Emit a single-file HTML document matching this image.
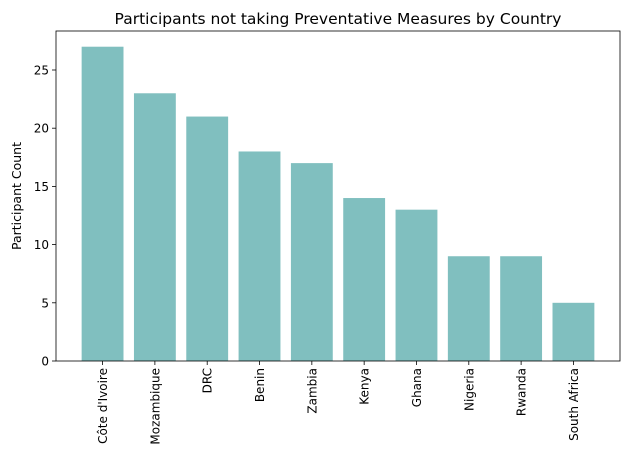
<!DOCTYPE html>
<html><head><meta charset="utf-8">
<style>
body{margin:0;background:#fff;font-family:"Liberation Sans","DejaVu Sans",sans-serif;}
svg text{font-family:"DejaVu Sans","Liberation Sans",sans-serif;}
</style></head>
<body>
<svg id="chart" width="630" height="470" xmlns="http://www.w3.org/2000/svg">
<rect width="630" height="470" fill="#fff"/>
<text x="338" y="24" font-size="15.5" text-anchor="middle" fill="#000">Participants not taking Preventative Measures by Country</text>
<text transform="translate(21,196) rotate(-90)" font-size="12.5" text-anchor="middle" fill="#000">Participant Count</text>
<g id="bars"></g>
<g id="axes"></g>
</svg>
<script>
const categories=["Côte d'Ivoire","Mozambique","DRC","Benin","Zambia","Kenya","Ghana","Nigeria","Rwanda","South Africa"];
const values=[27,23,21,18,17,14,13,9,9,5];
const yTicks=[0,5,10,15,20,25];
const L=56,R=620,T=31,B=361;
const yMax=28.35, xMin=-0.89, xMax=9.89;
const ns="http://www.w3.org/2000/svg";
function y(v){return B-(v/yMax)*(B-T);}
function x(i){return L+(i-xMin)/(xMax-xMin)*(R-L);}
function mk(t,a,parent){const e=document.createElementNS(ns,t);for(const k in a)e.setAttribute(k,a[k]);parent.appendChild(e);return e;}
const bars=document.getElementById('bars'),axes=document.getElementById('axes');
const bw=0.8*(R-L)/(xMax-xMin);
values.forEach((v,i)=>{
  const r=mk('rect',{x:x(i)-bw/2,y:y(v),width:bw,height:B-y(v),fill:'#80bfbf'},bars);
  
  
  mk('line',{x1:x(i),x2:x(i),y1:B,y2:B+4,stroke:'#000','stroke-width':0.8},axes);
  const t=mk('text',{transform:`translate(${x(i)+4.5},${B+7}) rotate(-90)`,'font-size':12,'text-anchor':'end',fill:'#000'},axes);
  t.textContent=categories[i];
  
  
});
yTicks.forEach(v=>{
  mk('line',{x1:L-4,x2:L,y1:y(v),y2:y(v),stroke:'#000','stroke-width':0.8},axes);
  const t=mk('text',{x:L-7,y:y(v)+4.5,'font-size':12,'text-anchor':'end',fill:'#000'},axes);
  t.textContent=v;
  
  
});
const f=mk('rect',{x:L,y:T,width:R-L,height:B-T,fill:'none',stroke:'#000','stroke-width':0.8},axes);


</script>
</body></html>
